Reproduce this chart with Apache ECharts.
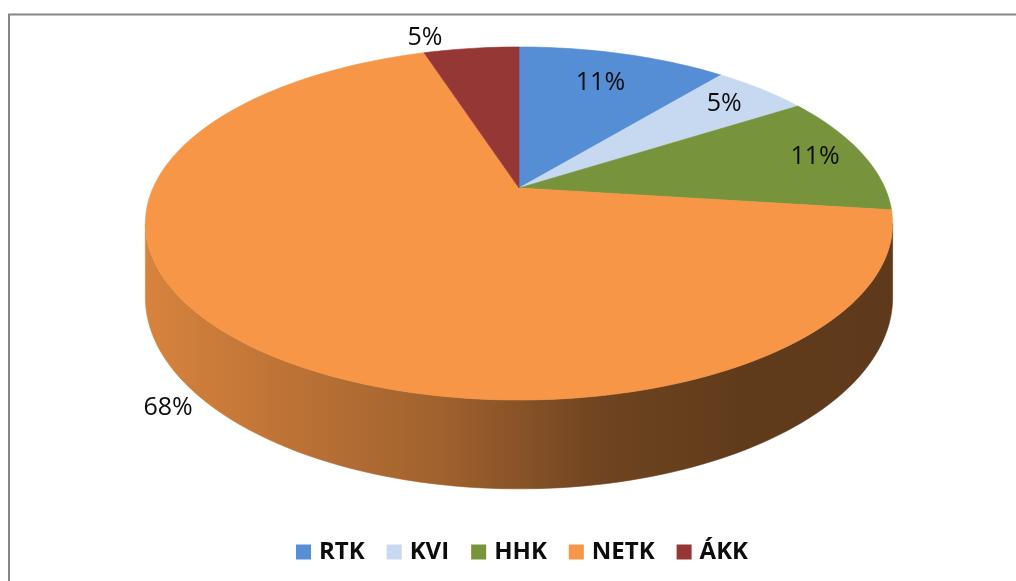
<!DOCTYPE html>
<html>
<head>
<meta charset="utf-8">
<script src="https://cdn.jsdelivr.net/npm/echarts@6/dist/echarts.min.js"></script>
<style>
    html, body { margin: 0; padding: 0; background: #fff; }
    #chart { width: 1016px; height: 581px; }
</style>
</head>
<body>
<div id="chart"></div>
<script>
// 数据
const categories = ["RTK", "KVI", "HHK", "NETK", "ÁKK"];
const values = [11, 5, 11, 68, 5];
const colors = ["#558ED5", "#C6D9F1", "#77933C", "#F79646", "#953735"];

(function () {
    let myChart = echarts.init(document.getElementById("chart"));
    const total = values.reduce((a, b) => a + b, 0);

    // 3D 饼图的几何参数 (透视椭圆)
    const cx = 519, cy = 188;     // 圆心投影
    const rx = 366, ry = 169.4;   // 水平 / 垂直半径
    const persp = 0.201;          // 透视强度
    const depth = 71;             // 侧面厚度
    const silh = Math.asin(persp) * 180 / Math.PI;

    // 标签位置: r 为半径比例, f 为扇区内角度比例
    const labelSpot = [
        { r: 0.75, f: 0.5 },
        { r: 0.83, f: 0.5 },
        { r: 0.86, f: 0.5 },
        { r: 1.22, f: 0.5, drop: 0.28 },
        { r: 1.12, f: 0.1 }
    ];

    function proj(r, deg, drop) {
        let t = deg * Math.PI / 180;
        let s = 1 + persp * r * Math.sin(t);
        let x = cx + rx * r * Math.cos(t) / s;
        let y = cy - ry * r * Math.sin(t) / s;
        if (drop) y += drop * depth / (1 + persp * Math.sin(t));
        return [x, y];
    }

    function shade(hex, f) {
        let n = parseInt(hex.slice(1), 16);
        let r = Math.round(((n >> 16) & 255) * f);
        let g = Math.round(((n >> 8) & 255) * f);
        let b = Math.round((n & 255) * f);
        return "rgb(" + r + "," + g + "," + b + ")";
    }

    function arcPoints(a, b, drop) {
        let pts = [];
        let n = Math.max(2, Math.ceil(Math.abs(a - b) / 1.5));
        for (let k = 0; k <= n; k++) {
            pts.push(proj(1, a + (b - a) * k / n, drop));
        }
        return pts;
    }

    function drawSlice(i, api) {
        let before = values.slice(0, i).reduce((a, b) => a + b, 0);
        let a = 90 - 360 * before / total;
        let b = 90 - 360 * (before + values[i]) / total;
        let color = colors[i];
        let children = [];

        // 侧面 (只画前方可见部分)
        let wallFill = new echarts.graphic.LinearGradient(cx - rx * 1.02, 0, cx + rx * 1.02, 0, [
            { offset: 0, color: shade(color, 0.87) },
            { offset: 0.39, color: shade(color, 0.65) },
            { offset: 0.61, color: shade(color, 0.45) },
            { offset: 0.8, color: shade(color, 0.39) },
            { offset: 1, color: shade(color, 0.38) }
        ], true);
        [-360, 0, 360].forEach(function (k) {
            let hi = Math.min(a, -silh + k);
            let lo = Math.max(b, -180 + silh + k);
            if (hi > lo) {
                let top = arcPoints(hi, lo, false);
                let bottom = arcPoints(hi, lo, true).reverse();
                children.push({
                    type: "polygon",
                    z2: 1,
                    shape: { points: top.concat(bottom) },
                    style: { fill: wallFill, stroke: wallFill, lineWidth: 0.6 }
                });
            }
        });

        // 顶面
        children.push({
            type: "polygon",
            z2: 10,
            shape: { points: [[cx, cy]].concat(arcPoints(a, b, false)) },
            style: { fill: color, stroke: color, lineWidth: 0.6 }
        });

        // 百分比标签
        let spot = labelSpot[i];
        let mid = a + (b - a) * spot.f;
        let p = proj(spot.r, mid, false);
        if (spot.drop) p[1] += spot.drop * depth / (1 + persp * Math.sin(mid * Math.PI / 180));
        children.push({
            type: "text",
            z2: 20,
            x: p[0],
            y: p[1],
            style: {
                text: Math.round(values[i] / total * 100) + "%",
                fill: "#0d0d0d",
                font: "500 25px 'Open Sans'",
                align: "center",
                verticalAlign: "middle"
            }
        });

        return { type: "group", children: children };
    }

    let option = {
        animation: false,
        legend: {
            left: 291,
            top: 535,
            icon: "rect",
            itemWidth: 15,
            itemHeight: 15,
            itemGap: 22,
            textStyle: {
                fontFamily: "Open Sans",
                fontWeight: "bold",
                fontSize: 24,
                color: "#0d0d0d",
                padding: [0, 0, 0, 3]
            },
            data: categories
        },
        graphic: [
            {
                type: "rect",
                shape: { x: 9, y: 14.5, width: 1100, height: 700 },
                style: { fill: "none", stroke: "#868686", lineWidth: 2 }
            }
        ],
        series: categories.map(function (name, i) {
            return {
                type: "custom",
                name: name,
                coordinateSystem: "none",
                itemStyle: { color: colors[i] },
                data: [values[i]],
                renderItem: function (params, api) {
                    return drawSlice(i, api);
                }
            };
        })
    };
    myChart.setOption(option);
    window.addEventListener("resize", function () {
        myChart.resize();
    });
})();
</script>
</body>
</html>
